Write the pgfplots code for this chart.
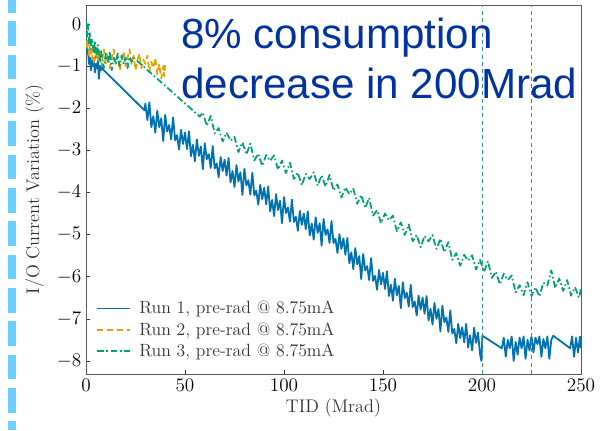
\documentclass[border=0pt]{standalone}
\usepackage{pgfplots}
\pgfplotsset{compat=1.18}
\usepackage{fontspec}
\newfontfamily\arialfont{Liberation Sans}
\definecolor{runblue}{HTML}{0072B2}
\definecolor{runorange}{HTML}{E69F00}
\definecolor{rungreen}{HTML}{009E73}
\definecolor{deco}{RGB}{108,207,255}
\definecolor{titleblue}{RGB}{0,51,160}
\definecolor{vline}{RGB}{50,150,160}
\begin{document}
\begin{tikzpicture}[x=0.75pt,y=0.75pt]
\useasboundingbox (0,0) rectangle (608,430);
\draw[deco, line width=6pt, dash pattern=on 18.5pt off 6.5pt, dash phase=9pt] (12,430) -- (12,0);
\begin{axis}[
  at={(64.5pt,42pt)}, anchor=south west,
  scale only axis, width=371.25pt, height=276.75pt,
  xmin=0, xmax=250, ymin=-8.31, ymax=0.45,
  xtick={0,50,100,150,200,250},
  ytick={-8,-7,-6,-5,-4,-3,-2,-1,0},
  tick pos=left, tick align=inside,
  major tick length=3pt,
  axis line style={black!65},
  every tick/.style={black!80},
  tick label style={font=\fontsize{14}{16}\selectfont},
  label style={font=\fontsize{13.7}{16}\selectfont, text=black!80},
  xlabel={TID (Mrad)},
  ylabel={I/O Current Variation (\%)},
  ylabel style={yshift=3pt},
  xlabel style={yshift=1pt},
  legend cell align=left,
  legend style={at={(axis description cs:0.012,0.027)}, anchor=south west,
    draw=none, fill=white, fill opacity=0.85, text opacity=1,
    font=\fontsize{13.3}{15}\selectfont, text=black!80,
    row sep=1.0pt, column sep=4pt},
  legend image code/.code={\draw[#1] (0pt,0pt) -- (25pt,0pt);},
]
\addplot[runblue, line width=1.35pt, line join=round] table {
0 -0.45
0.5 -0.70
1 -0.60
1.5 -0.95
2 -0.80
2.5 -1.10
3 -0.85
3.5 -1.00
4 -0.90
4.5 -1.15
5 -0.95
5.5 -1.05
6 -0.88
6.5 -1.30
7 -1.00
7.5 -1.10
8 -0.95
8.6 -1.08
29.5 -2.05
30 -1.89
31 -2.28
32 -1.86
33 -2.45
34 -2.19
35 -2.58
36 -2.06
37 -2.45
38 -2.24
39 -2.78
40 -2.16
41 -2.55
42 -2.40
43 -2.74
44 -2.22
45 -2.76
46 -2.64
47 -2.98
48 -2.51
49 -2.85
50 -2.58
51 -2.97
52 -2.55
53 -3.14
54 -2.87
55 -3.26
56 -2.74
57 -3.13
58 -2.91
59 -3.45
60 -2.83
61 -3.21
62 -3.09
63 -3.42
64 -2.90
65 -3.43
66 -3.31
67 -3.64
68 -3.16
69 -3.49
70 -3.22
71 -3.60
72 -3.18
73 -3.76
74 -3.49
75 -3.87
76 -3.35
77 -3.74
78 -3.52
79 -4.06
80 -3.44
81 -3.83
82 -3.71
83 -4.05
84 -3.53
85 -4.07
86 -3.95
87 -4.29
88 -3.82
89 -4.16
90 -3.89
91 -4.28
92 -3.86
93 -4.45
94 -4.18
95 -4.56
96 -4.04
97 -4.42
98 -4.20
99 -4.73
100 -4.11
101 -4.49
102 -4.36
103 -4.69
104 -4.17
105 -4.70
106 -4.58
107 -4.91
108 -4.44
109 -4.77
110 -4.50
111 -4.87
112 -4.45
113 -5.02
114 -4.74
115 -5.12
116 -4.59
117 -4.96
118 -4.73
119 -5.26
120 -4.63
121 -5.01
122 -4.88
123 -5.20
124 -4.68
125 -5.20
126 -5.10
127 -5.44
128 -4.99
129 -5.34
130 -5.09
131 -5.48
132 -5.08
133 -5.68
134 -5.42
135 -5.82
136 -5.32
137 -5.71
138 -5.51
139 -6.06
140 -5.46
141 -5.85
142 -5.75
143 -6.08
144 -5.56
145 -6.10
146 -5.98
147 -6.31
148 -5.84
149 -6.18
150 -5.91
151 -6.29
152 -5.87
153 -6.46
154 -6.19
155 -6.57
156 -6.05
157 -6.44
158 -6.22
159 -6.75
160 -6.13
161 -6.51
162 -6.38
163 -6.71
164 -6.19
165 -6.72
166 -6.59
167 -6.92
168 -6.45
169 -6.78
170 -6.50
171 -6.88
172 -6.46
173 -7.04
174 -6.76
175 -7.14
176 -6.62
177 -7.00
178 -6.77
179 -7.30
180 -6.69
181 -7.08
182 -6.97
183 -7.31
184 -6.80
185 -7.35
186 -7.24
187 -7.58
188 -7.12
189 -7.46
190 -7.20
191 -7.56
192 -7.12
193 -7.68
194 -7.39
195 -7.75
196 -7.21
197 -7.57
198 -7.33
199 -7.84
199.7 -8.00
200.2 -7.40
210 -7.70
211 -7.45
212 -7.90
213 -7.50
214 -7.70
215 -7.42
216 -8.00
217 -7.55
218 -7.85
219 -7.45
220 -7.70
221 -7.42
222 -7.95
223 -7.50
224 -7.75
225 -7.42
226 -7.80
227 -7.45
228 -7.60
229 -7.42
230 -7.90
231 -7.48
232 -7.70
233 -7.42
234 -7.95
235 -7.50
236 -7.40
244.5 -7.70
245.5 -7.42
246.5 -7.90
247.5 -7.45
248.5 -7.80
249.5 -7.42
250 -7.70
};
\addlegendentry{Run 1, pre-rad @ 8.75mA}
\addplot[color=runorange, line width=1.3pt, line join=round, dash pattern=on 4.5pt off 3pt] table {
0 -0.40
0.5 -0.60
1 -0.35
1.5 -0.75
2 -0.50
3 -0.85
3.5 -0.60
4 -0.95
5 -0.70
5.5 -0.55
6 -0.90
7 -0.65
8 -1.00
8.5 -0.75
9 -0.60
10 -0.95
11 -0.70
12 -1.05
13 -0.80
14 -0.60
15 -0.95
16 -0.75
17 -1.10
18 -0.85
19 -0.65
20 -1.00
21 -0.80
22 -0.60
23 -0.95
24 -0.75
25 -1.10
26 -0.85
27 -0.70
28 -1.05
29 -0.85
30 -0.95
31 -0.75
32 -1.15
33 -0.90
34 -1.05
35 -0.80
36 -1.20
37 -0.95
38 -1.30
39 -1.00
39.5 -1.25
40 -0.90
};
\addlegendentry{Run 2, pre-rad @ 8.75mA}
\addplot[rungreen, line width=1.3pt, line join=round, dash pattern=on 5pt off 2pt on 1.2pt off 2pt] table {
0 0.05
0.5 -0.30
1 0.00
1.5 -0.50
2 -0.20
2.5 -0.60
3 -0.35
4 -0.70
4.5 -0.40
5 -0.80
6 -0.50
7 -0.90
7.5 -0.60
8 -0.75
9 -1.05
10 -0.70
11 -0.90
12 -0.65
13 -1.10
14 -0.80
15 -0.95
16 -0.70
17 -1.00
18 -0.75
19 -0.95
20 -0.80
21 -1.05
22 -0.78
23 -0.90
24 -0.80
57.5 -2.20
59 -2.10
61 -2.42
63 -2.18
65 -2.60
67 -2.47
69 -2.79
71 -2.58
73 -2.77
75 -2.68
77 -3.04
79 -2.81
81 -3.10
83 -2.84
85 -3.24
87 -3.08
89 -3.37
91 -3.11
93 -3.25
95 -3.12
97 -3.46
99 -3.24
101 -3.54
103 -3.29
105 -3.68
107 -3.53
109 -3.83
111 -3.56
113 -3.68
115 -3.52
117 -3.84
119 -3.59
121 -3.86
123 -3.58
125 -3.95
127 -3.81
129 -4.12
131 -3.88
133 -4.04
135 -3.91
137 -4.27
139 -4.06
141 -4.37
143 -4.13
145 -4.55
147 -4.42
149 -4.73
151 -4.50
153 -4.66
155 -4.55
157 -4.92
159 -4.71
161 -5.01
163 -4.76
165 -5.16
167 -5.01
169 -5.30
171 -5.03
173 -5.16
175 -5.01
177 -5.34
179 -5.10
181 -5.42
183 -5.18
185 -5.60
187 -5.44
189 -5.74
191 -5.48
193 -5.62
195 -5.49
197 -5.83
199 -5.60
201 -5.89
203 -5.63
205 -6.03
207 -5.88
209 -6.18
211 -5.93
213 -6.08
215 -5.97
217 -6.37
219 -6.20
221 -6.44
223 -6.13
225 -6.46
227 -6.25
229 -6.47
231 -6.14
233 -6.21
235 -5.85
237 -6.27
239 -6.04
241 -6.34
243 -6.08
245 -6.45
247 -6.25
249 -6.50
250 -6.30
};
\addlegendentry{Run 3, pre-rad @ 8.75mA}
\addplot[vline, line width=0.6pt, dash pattern=on 3pt off 2.5pt, forget plot] coordinates {(200,-8.31) (200,0.45)};
\addplot[vline!70!rungreen, line width=0.6pt, dash pattern=on 3pt off 2.5pt, forget plot] coordinates {(225,-8.31) (225,0.45)};
\end{axis}
\node[anchor=base west, inner sep=0pt, text=titleblue, font=\arialfont\fontsize{31.6}{37}\selectfont] at (181,382) {8\% consumption};
\node[anchor=base west, inner sep=0pt, text=titleblue, font=\arialfont\fontsize{31.6}{37}\selectfont] at (181,332) {decrease in 200Mrad};
\end{tikzpicture}
\end{document}
